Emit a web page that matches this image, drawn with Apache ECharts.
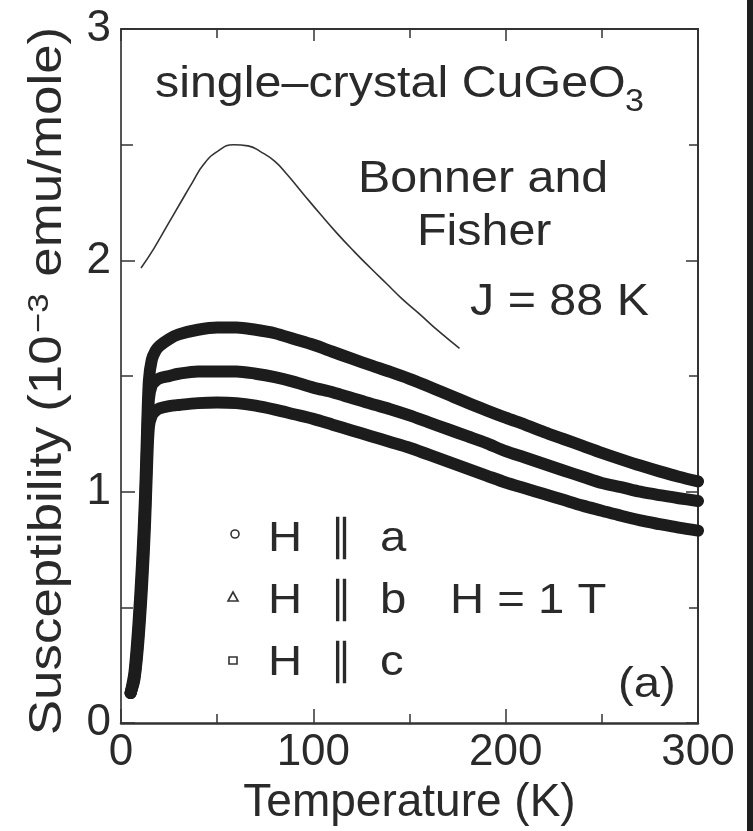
<!DOCTYPE html>
<html>
<head>
<meta charset="utf-8">
<script src="https://cdn.jsdelivr.net/npm/echarts@6/dist/echarts.min.js"></script>
<style>
html,body{margin:0;padding:0;background:#fff;}
#chart{width:753px;height:831px;}
</style>
</head>
<body>
<div id="chart"></div>
<script>
// ---- data ----
const xTicks = [0, 100, 200, 300];
const yTicks = [0, 1, 2, 3];

// H || b (triangles) - top curve
const T_b   = [5, 7, 9, 11, 12.5, 13.5, 14.5, 16, 18, 20, 25, 30, 40, 50, 60, 70, 80, 90, 100, 110, 120, 130, 140, 150, 160, 170, 180, 190, 200, 210, 220, 230, 240, 250, 260, 270, 280, 290, 300];
const chi_b = [0.13, 0.22, 0.42, 0.70, 0.98, 1.25, 1.48, 1.57, 1.61, 1.63, 1.66, 1.68, 1.70, 1.71, 1.71, 1.70, 1.685, 1.66, 1.635, 1.605, 1.575, 1.546, 1.518, 1.488, 1.455, 1.42, 1.385, 1.352, 1.32, 1.29, 1.258, 1.228, 1.198, 1.168, 1.14, 1.113, 1.088, 1.065, 1.045];

// H || a (circles) - middle curve
const T_a   = [5, 7, 9, 11, 12.5, 13.5, 14.5, 16, 18, 20, 25, 30, 40, 50, 60, 70, 80, 90, 100, 110, 120, 130, 140, 150, 160, 170, 180, 190, 200, 210, 220, 230, 240, 250, 260, 270, 280, 290, 300];
const chi_a = [0.13, 0.20, 0.38, 0.65, 0.92, 1.18, 1.40, 1.46, 1.48, 1.49, 1.50, 1.51, 1.52, 1.52, 1.52, 1.51, 1.495, 1.475, 1.45, 1.43, 1.405, 1.38, 1.357, 1.33, 1.30, 1.27, 1.24, 1.21, 1.175, 1.148, 1.12, 1.092, 1.065, 1.038, 1.02, 1.0, 0.985, 0.972, 0.96];

// H || c (squares) - bottom curve
const T_c   = [5, 7, 9, 11, 12.5, 13.5, 14.5, 16, 18, 20, 25, 30, 40, 50, 60, 70, 80, 90, 100, 110, 120, 130, 140, 150, 160, 170, 180, 190, 200, 210, 220, 230, 240, 250, 260, 270, 280, 290, 300];
const chi_c = [0.13, 0.19, 0.35, 0.60, 0.86, 1.10, 1.28, 1.33, 1.35, 1.36, 1.37, 1.375, 1.383, 1.386, 1.383, 1.372, 1.355, 1.335, 1.315, 1.29, 1.265, 1.24, 1.215, 1.19, 1.16, 1.13, 1.10, 1.07, 1.04, 1.015, 0.99, 0.965, 0.94, 0.918, 0.896, 0.876, 0.86, 0.845, 0.832];

// Bonner-Fisher curve, J = 88 K
const T_bf   = [10.4, 17, 24, 31, 37, 43, 50, 58.5, 66, 72.5, 80, 86.5, 95, 103.6, 112, 121, 130, 138, 146, 155, 165, 176];
const chi_bf = [1.967, 2.05, 2.15, 2.25, 2.335, 2.415, 2.47, 2.50, 2.495, 2.47, 2.428, 2.37, 2.285, 2.20, 2.12, 2.04, 1.965, 1.90, 1.835, 1.77, 1.695, 1.62];

const zip = (xs, ys) => xs.map((x, i) => [x, ys[i]]);

const FONT = 'Liberation Sans, Arial, Helvetica, sans-serif';
const INK = '#1c1c1c';
const TXT = '#2a2a2a';
const SX = 1.1; // horizontal stretch of the scanned lettering

const chart = echarts.init(document.getElementById('chart'), null, {renderer: 'canvas'});

const bandStyle = {color: INK, width: 12, cap: 'round', join: 'round'};

function label(text, x, y, size, extra) {
  return Object.assign({type: 'text', x: x, y: y, scaleX: SX,
    style: {text: text, font: size + 'px ' + FONT, fill: TXT, align: 'left', verticalAlign: 'middle'}}, extra || {});
}

const option = {
  animation: false,
  backgroundColor: '#fff',
  grid: {left: 121, top: 29, right: 55, bottom: 102, containLabel: false},
  xAxis: [{
    type: 'value', min: xTicks[0], max: xTicks[xTicks.length - 1], interval: 100,
    position: 'bottom',
    axisLine: {show: true, onZero: false, lineStyle: {color: '#333', width: 2.5}},
    axisTick: {show: true, inside: true, length: 14, lineStyle: {color: '#333', width: 1.5}},
    minorTick: {show: true, splitNumber: 2, length: 9, lineStyle: {color: '#333', width: 1.5}},
    splitLine: {show: false},
    axisLabel: {show: true, fontSize: 44, fontFamily: FONT, color: TXT, margin: 8},
    name: 'Temperature (K)', nameLocation: 'middle', nameGap: 51,
    nameTextStyle: {fontSize: 46, fontFamily: FONT, color: TXT}
  }, {
    type: 'value', min: xTicks[0], max: xTicks[xTicks.length - 1], interval: 100,
    position: 'top',
    axisLine: {show: true, onZero: false, lineStyle: {color: '#333', width: 2}},
    axisTick: {show: true, inside: true, length: 12, lineStyle: {color: '#333', width: 1.5}},
    minorTick: {show: true, splitNumber: 2, length: 9, lineStyle: {color: '#333', width: 1.5}},
    splitLine: {show: false},
    axisLabel: {show: false}
  }],
  yAxis: [{
    type: 'value', min: yTicks[0], max: yTicks[yTicks.length - 1], interval: 1,
    position: 'left',
    axisLine: {show: true, onZero: false, lineStyle: {color: '#555', width: 2}},
    axisTick: {show: true, inside: true, length: 14, lineStyle: {color: '#333', width: 1.5}},
    minorTick: {show: true, splitNumber: 2, length: 12, lineStyle: {color: '#333', width: 1.5}},
    splitLine: {show: false},
    axisLabel: {show: true, fontSize: 44, fontFamily: FONT, color: TXT, margin: 10}
  }, {
    type: 'value', min: yTicks[0], max: yTicks[yTicks.length - 1], interval: 1,
    position: 'right',
    axisLine: {show: true, onZero: false, lineStyle: {color: '#333', width: 2}},
    axisTick: {show: true, inside: true, length: 12, lineStyle: {color: '#333', width: 1.5}},
    minorTick: {show: true, splitNumber: 2, length: 9, lineStyle: {color: '#333', width: 1.5}},
    splitLine: {show: false},
    axisLabel: {show: false}
  }],
  series: [
    {name: 'H || b', type: 'line', data: zip(T_b, chi_b), xAxisIndex: 0, yAxisIndex: 0,
     symbol: 'none', smooth: 0.3, lineStyle: bandStyle, z: 3},
    {name: 'H || a', type: 'line', data: zip(T_a, chi_a), xAxisIndex: 0, yAxisIndex: 0,
     symbol: 'none', smooth: 0.3, lineStyle: bandStyle, z: 3},
    {name: 'H || c', type: 'line', data: zip(T_c, chi_c), xAxisIndex: 0, yAxisIndex: 0,
     symbol: 'none', smooth: 0.3, lineStyle: bandStyle, z: 3},
    {name: 'Bonner and Fisher', type: 'line', data: zip(T_bf, chi_bf), xAxisIndex: 0, yAxisIndex: 0,
     symbol: 'none', smooth: 0.5, lineStyle: {color: '#333', width: 1.6}, z: 2}
  ],
  graphic: [
    // y axis title (stretched lettering, rotated)
    {type: 'text', x: 48, y: 381, rotation: Math.PI / 2, scaleX: 1.15,
     style: {text: '{n|Susceptibility (10}{s|−3}{n| emu/mole)}', align: 'center', verticalAlign: 'middle',
       font: '46px ' + FONT, fill: TXT,
       rich: {
         n: {fontSize: 46, fontFamily: FONT, color: TXT},
         s: {fontSize: 30, fontFamily: FONT, color: TXT, verticalAlign: 'top', padding: [0, 2, 14, 2]}
       }}},
    label('single–crystal CuGeO', 155, 85, 44),
    label('3', 625, 102, 31),
    label('Bonner and', 358, 180, 44),
    label('Fisher', 417, 233, 44),
    label('J = 88 K', 470, 303, 44),
    // legend
    {type: 'circle', shape: {cx: 235, cy: 534, r: 4}, style: {fill: '#fff', stroke: '#333', lineWidth: 1.6}},
    {type: 'polygon', shape: {points: [[233, 592], [238, 601], [228, 601]]}, style: {fill: '#fff', stroke: '#333', lineWidth: 1.6}},
    {type: 'rect', shape: {x: 229, y: 657, width: 8, height: 7}, style: {fill: '#fff', stroke: '#333', lineWidth: 1.6}},
    label('H', 268, 539, 43),
    {type: 'text', x: 341, y: 539, style: {text: '∥', font: '43px DejaVu Sans', fill: TXT, align: 'center', verticalAlign: 'middle'}},
    label('a', 380, 539, 43),
    label('H', 268, 601, 43),
    {type: 'text', x: 341, y: 601, style: {text: '∥', font: '43px DejaVu Sans', fill: TXT, align: 'center', verticalAlign: 'middle'}},
    label('b', 380, 601, 43),
    label('H = 1 T', 450, 601, 43),
    label('H', 268, 663, 43),
    {type: 'text', x: 341, y: 663, style: {text: '∥', font: '43px DejaVu Sans', fill: TXT, align: 'center', verticalAlign: 'middle'}},
    label('c', 380, 663, 43),
    label('(a)', 618, 685, 43),
    // dark scan edge at the right of the picture
    {type: 'rect', shape: {x: 747, y: 0, width: 6, height: 831}, style: {fill: '#1e1e1e'}}
  ]
};

chart.setOption(option);
</script>
</body>
</html>
